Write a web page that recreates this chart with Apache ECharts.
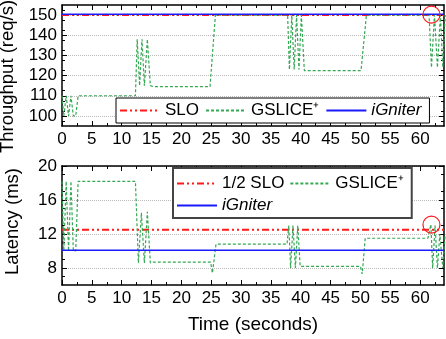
<!DOCTYPE html>
<html>
<head>
<meta charset="utf-8">
<script src="https://cdn.jsdelivr.net/npm/echarts@6/dist/echarts.min.js"></script>
<style>
  html, body { margin: 0; padding: 0; background: #fff; }
  #chart { width: 446px; height: 339px; }
</style>
</head>
<body>
<div id="chart"></div>
<script>
// tick labels
const timeTicks = [0, 5, 10, 15, 20, 25, 30, 35, 40, 45, 50, 55, 60];
const throughputTicks = [100, 110, 120, 130, 140, 150];
const latencyTicks = [8, 12, 16, 20];

// throughput panel, [time, req/s]
const sloThroughput = [[0, 150], [64, 150]];
const igniterThroughput = [[0, 150.4], [64, 150.4]];
const gsliceThroughput = [
  [0, 110], [0.3, 100], [0.7, 110], [1.1, 100], [1.5, 110], [1.9, 100], [2.3, 100], [2.7, 110],
  [12.3, 110], [12.6, 138], [13.0, 115], [13.4, 138], [13.8, 115], [14.3, 138], [14.8, 115],
  [15.3, 114.5], [24.8, 114.5], [25.7, 150], [37.8, 150],
  [38.1, 123], [38.5, 150], [38.9, 123], [39.3, 150], [39.7, 123], [40.1, 150], [40.6, 122.5],
  [50.1, 122.5], [51, 150], [61.5, 150],
  [61.9, 124], [62.4, 150], [62.9, 124], [63.4, 150], [63.8, 124], [64.2, 150]
];

// latency panel, [time, ms]
const halfSloLatency = [[0, 12.5], [64, 12.5]];
const igniterLatency = [[0, 10.1], [64, 10.1]];
const gsliceLatency = [
  [0, 18.2], [0.3, 10], [0.7, 18.2], [1.1, 10], [1.5, 18.2], [1.9, 10], [2.3, 10], [2.7, 18.2],
  [12.3, 18.2], [12.8, 8.6], [13.3, 14.5], [13.8, 8.6], [14.3, 14.6], [14.8, 8.6],
  [15.3, 8.7], [24.9, 8.7], [25.2, 7.4], [25.8, 10.8], [37.7, 10.8],
  [38.0, 13], [38.3, 8], [38.7, 13], [39.1, 8], [39.5, 13], [39.9, 8.2],
  [40.3, 8.2], [50, 8.2], [50.3, 7.3], [50.8, 11.5], [61.3, 11.5],
  [61.8, 13.1], [62.1, 8], [62.5, 13], [62.9, 8], [63.3, 12], [63.8, 8], [64.2, 12]
];

// highlighted points (red circles)
const highlightThroughput = [61.9, 150.2];
const highlightLatency = [61.9, 13.1];

const FONT = 'Liberation Sans, Arial, sans-serif';
const RED = '#ff1a1a';
const GREEN = '#34a853';
const BLUE = '#1a1aff';

const chart = echarts.init(document.getElementById('chart'), null, { renderer: 'canvas' });

function timeAxis(gridIndex, position, showLabels, name) {
  return {
    type: 'value', gridIndex, position, min: 0, max: 64, interval: 5,
    axisLine: { show: true, onZero: false, lineStyle: { color: '#000', width: 1.5 } },
    axisTick: { show: true, inside: true, length: 5, customValues: timeTicks, lineStyle: { color: '#000' } },
    minorTick: { show: true, splitNumber: 2, length: 3, lineStyle: { color: '#000' } },
    axisLabel: { show: showLabels, customValues: timeTicks, margin: 5, fontSize: 17, color: '#000', fontFamily: FONT },
    splitLine: { show: false },
    name: name || '',
    nameLocation: 'middle', nameGap: 30,
    nameTextStyle: { fontSize: 19, color: '#000', fontFamily: FONT }
  };
}

function valueAxis(gridIndex, position, min, max, interval, ticks, name, pad) {
  const left = position === 'left';
  return {
    type: 'value', gridIndex, position, min, max, interval,
    axisLine: { show: true, onZero: false, lineStyle: { color: '#000', width: 1.5 } },
    axisTick: { show: true, inside: true, length: 5, customValues: ticks, lineStyle: { color: '#000' } },
    minorTick: { show: true, splitNumber: 2, length: 3, lineStyle: { color: '#000' } },
    axisLabel: { show: left, customValues: ticks, margin: 5, fontSize: 17, color: '#000', fontFamily: FONT },
    splitLine: { show: left, lineStyle: { color: '#bbb', type: 'dotted', width: 1 } },
    name: name || '',
    nameLocation: 'middle', nameGap: 40,
    nameTextStyle: { fontSize: 18.5, color: '#000', fontFamily: FONT, padding: pad || 0 }
  };
}

const circle = coord => ({
  symbol: 'circle', symbolSize: 17, silent: true,
  label: { show: false },
  itemStyle: { color: 'rgba(0,0,0,0)', borderColor: RED, borderWidth: 1.2 },
  data: [{ coord }]
});

const legendText = {
  fontSize: 17, color: '#000', fontFamily: FONT,
  rich: { it: { fontStyle: 'italic', fontSize: 17, fontFamily: FONT, color: '#000' } }
};
const legendFormatter = n => (n === 'iGniter' ? '{it|iGniter}' : n);

chart.setOption({
  animation: false,
  backgroundColor: '#fff',
  grid: [
    { left: 62, top: 5, width: 382, height: 121, outerBoundsMode: 'none', containLabel: false },
    { left: 62, top: 166, width: 382, height: 119, outerBoundsMode: 'none', containLabel: false }
  ],
  xAxis: [
    timeAxis(0, 'bottom', true),
    timeAxis(0, 'top', false),
    timeAxis(1, 'bottom', true, 'Time (seconds)'),
    timeAxis(1, 'top', false)
  ],
  yAxis: [
    valueAxis(0, 'left', 95, 155, 5, throughputTicks, 'Throughput (req/s)', [0, 22, 0, 0]),
    valueAxis(0, 'right', 95, 155, 5, throughputTicks),
    valueAxis(1, 'left', 6, 20, 2, latencyTicks, 'Latency (ms)', [0, 0, 0, 8]),
    valueAxis(1, 'right', 6, 20, 2, latencyTicks)
  ],
  legend: [
    {
      data: ['SLO', 'GSLICE⁺', 'iGniter'],
      left: 116, top: 98,
      padding: [4, 8, 4, 3],
      itemWidth: 40, itemHeight: 12, itemGap: 6,
      itemStyle: { opacity: 0 },
      borderColor: '#000', borderWidth: 1, backgroundColor: '#fff',
      textStyle: legendText, formatter: legendFormatter
    },
    {
      data: ['1/2 SLO', 'GSLICE⁺', 'iGniter'],
      left: 173, top: 168, width: 236,
      padding: [7, 8, 4, 3],
      itemWidth: 40, itemHeight: 12, itemGap: 5,
      itemStyle: { opacity: 0 },
      borderColor: '#444', borderWidth: 2, backgroundColor: '#fff',
      textStyle: legendText, formatter: legendFormatter
    }
  ],
  series: [
    {
      name: 'SLO', type: 'line', xAxisIndex: 0, yAxisIndex: 0, data: sloThroughput,
      showSymbol: false, symbol: 'none', z: 2,
      lineStyle: { color: RED, width: 1.8, type: [7, 3, 2, 3, 2, 3] }, itemStyle: { color: RED }
    },
    {
      name: 'GSLICE⁺', type: 'line', xAxisIndex: 0, yAxisIndex: 0, data: gsliceThroughput,
      showSymbol: false, symbol: 'none', z: 3,
      lineStyle: { color: GREEN, width: 1.2, type: [3, 2] }, itemStyle: { color: GREEN }
    },
    {
      name: 'iGniter', type: 'line', xAxisIndex: 0, yAxisIndex: 0, data: igniterThroughput,
      showSymbol: false, symbol: 'none', z: 4,
      lineStyle: { color: BLUE, width: 1.5 }, itemStyle: { color: BLUE },
      markPoint: circle(highlightThroughput)
    },
    {
      name: '1/2 SLO', type: 'line', xAxisIndex: 2, yAxisIndex: 2, data: halfSloLatency,
      showSymbol: false, symbol: 'none', z: 2,
      lineStyle: { color: RED, width: 1.8, type: [7, 3, 2, 3, 2, 3] }, itemStyle: { color: RED }
    },
    {
      name: 'GSLICE⁺', type: 'line', xAxisIndex: 2, yAxisIndex: 2, data: gsliceLatency,
      showSymbol: false, symbol: 'none', z: 3,
      lineStyle: { color: GREEN, width: 1.2, type: [3, 2] }, itemStyle: { color: GREEN },
      markPoint: circle(highlightLatency)
    },
    {
      name: 'iGniter', type: 'line', xAxisIndex: 2, yAxisIndex: 2, data: igniterLatency,
      showSymbol: false, symbol: 'none', z: 4,
      lineStyle: { color: BLUE, width: 1.5 }, itemStyle: { color: BLUE }
    }
  ]
});
</script>
</body>
</html>
